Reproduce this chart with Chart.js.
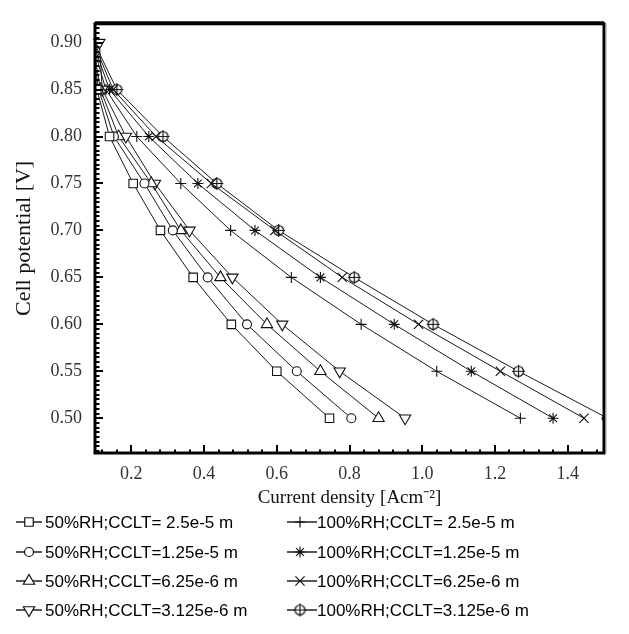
<!DOCTYPE html>
<html><head><meta charset="utf-8">
<script src="https://cdn.jsdelivr.net/npm/chart.js@4/dist/chart.umd.min.js"></script>
<style>html,body{margin:0;padding:0;background:#fff;overflow:hidden}#wrap{width:629px;height:634px}</style>
</head><body><div id="wrap"><canvas id="c" width="629" height="634"></canvas></div>
<script>
// Cell potential [V] at which each point was computed
const potentials = [0.90, 0.85, 0.80, 0.75, 0.70, 0.65, 0.60, 0.55, 0.50];
// Current density [A/cm2] for each series
const rh50_cclt25e5   = [0.088, 0.105, 0.140, 0.205, 0.280, 0.370, 0.475, 0.600, 0.745];
const rh50_cclt125e5  = [0.090, 0.110, 0.152, 0.236, 0.314, 0.410, 0.518, 0.655, 0.805];
const rh50_cclt625e6  = [0.093, 0.115, 0.165, 0.255, 0.336, 0.445, 0.573, 0.720, 0.880];
const rh50_cclt3125e6 = [0.112, 0.120, 0.185, 0.265, 0.360, 0.478, 0.615, 0.773, 0.953];
const rh100_cclt25e5   = [0.092, 0.130, 0.215, 0.336, 0.473, 0.640, 0.832, 1.040, 1.270];
const rh100_cclt125e5  = [0.094, 0.140, 0.248, 0.383, 0.540, 0.720, 0.923, 1.135, 1.360];
const rh100_cclt625e6  = [0.096, 0.150, 0.268, 0.420, 0.595, 0.780, 0.990, 1.215, 1.445];
const rh100_cclt3125e6 = [0.098, 0.160, 0.287, 0.435, 0.605, 0.813, 1.030, 1.265, 1.510];
const seriesLabels = [
  '50%RH;CCLT= 2.5e-5 m', '50%RH;CCLT=1.25e-5 m', '50%RH;CCLT=6.25e-6 m', '50%RH;CCLT=3.125e-6 m',
  '100%RH;CCLT= 2.5e-5 m', '100%RH;CCLT=1.25e-5 m', '100%RH;CCLT=6.25e-6 m', '100%RH;CCLT=3.125e-6 m'
];
const xTickValues = [0.2, 0.4, 0.6, 0.8, 1.0, 1.2, 1.4];
const yTickValues = [0.50, 0.55, 0.60, 0.65, 0.70, 0.75, 0.80, 0.85, 0.90];
const xTitle = 'Current density [Acm\u207B\u00B2]';
const yTitle = 'Cell potential [V]';

const X_MIN = 0.1, X_MAX = 1.5, Y_MIN = 0.463, Y_MAX = 0.92;

// circled-plus marker
function makeCirclePlus() {
  const c = document.createElement('canvas');
  c.width = 15; c.height = 15;
  const g = c.getContext('2d');
  g.fillStyle = '#fff'; g.strokeStyle = '#111'; g.lineWidth = 1.2;
  g.beginPath(); g.arc(7.5, 7.5, 5, 0, Math.PI * 2); g.fill(); g.stroke();
  g.beginPath(); g.moveTo(1, 7.5); g.lineTo(14, 7.5); g.moveTo(7.5, 1); g.lineTo(7.5, 14); g.stroke();
  return c;
}
const circlePlus = makeCirclePlus();

const allSeries = [rh50_cclt25e5, rh50_cclt125e5, rh50_cclt625e6, rh50_cclt3125e6,
                   rh100_cclt25e5, rh100_cclt125e5, rh100_cclt625e6, rh100_cclt3125e6];
const styles = [
  {ps: 'rect', r: 6, rot: 0},
  {ps: 'circle', r: 4.5, rot: 0},
  {ps: 'triangle', r: 6.5, rot: 0},
  {ps: 'triangle', r: 6.5, rot: 180},
  {ps: 'cross', r: 5.5, rot: 0},
  {ps: 'star', r: 5.5, rot: 0},
  {ps: 'crossRot', r: 6.5, rot: 0},
  {ps: circlePlus, r: 6, rot: 0}
];

const datasets = allSeries.map((xs, i) => ({
  label: seriesLabels[i],
  data: xs.map((x, k) => ({x: x, y: potentials[k]})),
  borderColor: '#1a1a1a',
  borderWidth: 1,
  backgroundColor: '#fff',
  pointBackgroundColor: '#fff',
  pointBorderColor: '#111',
  pointBorderWidth: 1.1,
  pointStyle: styles[i].ps,
  pointRotation: styles[i].rot,
  pointRadius: ctx => (ctx.raw && ctx.raw.x < X_MIN) ? 0 : styles[i].r,
  pointHoverRadius: 0,
  tension: 0,
  fill: false,
  clip: {left: i === 3 ? 8 : 0, top: 0, right: 0, bottom: 0}
}));

const framePlugin = {
  id: 'frame',
  afterDraw(chart) {
    const {ctx, chartArea: a, scales: {x, y}} = chart;
    ctx.save();
    ctx.strokeStyle = '#000';
    // inside ticks on y axis
    ctx.lineWidth = 2;
    for (let k = 93; k <= 184; k++) {
      const v = k * 0.005;
      if (v < Y_MIN || v > Y_MAX) continue;
      const py = Math.round(y.getPixelForValue(v));
      const major = (k % 10 === 0);
      ctx.beginPath(); ctx.moveTo(a.left, py); ctx.lineTo(a.left + (major ? 8 : 4.5), py); ctx.stroke();
    }
    // inside ticks on x axis
    for (let k = 3; k <= 37; k++) {
      const v = k * 0.04;
      if (v < X_MIN || v > X_MAX) continue;
      const px = Math.round(x.getPixelForValue(v));
      const major = (k % 5 === 0);
      ctx.beginPath(); ctx.moveTo(px, a.bottom); ctx.lineTo(px, a.bottom - (major ? 8 : 3.5)); ctx.stroke();
    }
    // frame
    ctx.lineWidth = 3;
    ctx.strokeRect(a.left, a.top, a.right - a.left, a.bottom - a.top);
    ctx.lineWidth = 2;
    ctx.beginPath(); ctx.moveTo(a.left, a.top - 1.5); ctx.lineTo(a.right, a.top - 1.5); ctx.stroke();
    ctx.strokeStyle = '#999'; ctx.lineWidth = 1;
    ctx.beginPath(); ctx.moveTo(a.right + 2, a.top); ctx.lineTo(a.right + 2, a.bottom); ctx.stroke();

    // legend
    const rowsY = [522, 552, 581, 610];
    const cols = [{l1: 16, l2: 42, m: 29, t: 45}, {l1: 287, l2: 317, m: 300, t: 317}];
    ctx.font = '17px "Liberation Sans", Arial, sans-serif';
    ctx.textBaseline = 'middle';
    ctx.textAlign = 'left';
    chart.data.datasets.forEach((ds, i) => {
      const col = cols[Math.floor(i / 4)];
      const yy = rowsY[i % 4];
      ctx.strokeStyle = '#111'; ctx.lineWidth = 1.4;
      ctx.beginPath(); ctx.moveTo(col.l1, yy); ctx.lineTo(col.l2, yy); ctx.stroke();
      ctx.fillStyle = '#fff'; ctx.strokeStyle = '#111'; ctx.lineWidth = 1.2;
      Chart.helpers.drawPoint(ctx, {pointStyle: styles[i].ps, rotation: styles[i].rot, radius: styles[i].r, borderWidth: 1.2}, col.m, yy);
      ctx.fillStyle = '#000';
      ctx.fillText(ds.label, col.t, yy + 1);
    });
    ctx.restore();
  }
};

new Chart(document.getElementById('c'), {
  type: 'line',
  data: {datasets},
  options: {
    responsive: false,
    animation: false,
    devicePixelRatio: 1,
    layout: {padding: {left: 0, top: 9, right: 25, bottom: 120}},
    plugins: {legend: {display: false}, tooltip: {enabled: false}},
    scales: {
      x: {
        type: 'linear', min: X_MIN, max: X_MAX,
        afterBuildTicks: s => { s.ticks = xTickValues.map(v => ({value: v})); },
        afterFit: s => { s.height = 61; },
        grid: {display: false, drawTicks: false},
        border: {display: false},
        ticks: {autoSkip: false, maxRotation: 0, padding: 10, color: '#333',
                font: {family: '"Liberation Serif", "Times New Roman", serif', size: 18},
                callback: v => Number(v).toFixed(1)},
        title: {display: true, text: xTitle, color: '#111', padding: {top: 0, bottom: 5},
                font: {family: '"Liberation Serif", "Times New Roman", serif', size: 19}}
      },
      y: {
        type: 'linear', min: Y_MIN, max: Y_MAX,
        afterBuildTicks: s => { s.ticks = yTickValues.map(v => ({value: v})); },
        afterFit: s => { s.width = 95; },
        grid: {display: false, drawTicks: false},
        border: {display: false},
        ticks: {autoSkip: false, padding: 13, color: '#333',
                font: {family: '"Liberation Serif", "Times New Roman", serif', size: 18},
                callback: v => Number(v).toFixed(2)},
        title: {display: true, text: yTitle, color: '#111', padding: {top: 11, bottom: 0},
                font: {family: '"Liberation Serif", "Times New Roman", serif', size: 22}}
      }
    }
  },
  plugins: [framePlugin]
});
</script>
</body></html>
